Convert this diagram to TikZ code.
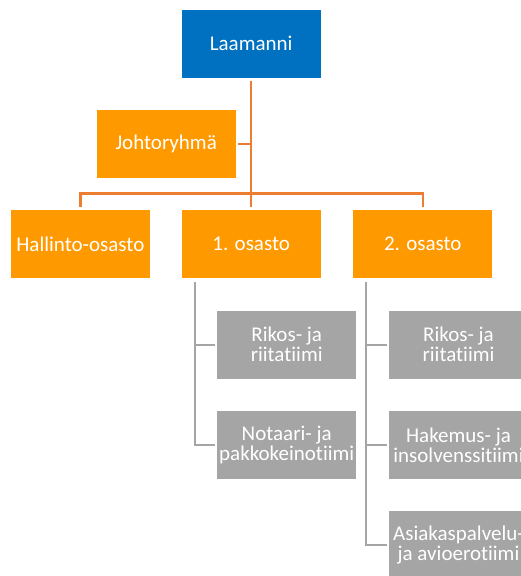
\documentclass[tikz,border=0pt]{standalone}
\usepackage{fontspec}
\setmainfont{Carlito}[Ligatures={NoCommon,NoRequired,NoContextual}]
\definecolor{laablue}{RGB}{0,112,192}
\definecolor{unitorange}{RGB}{255,153,0}
\definecolor{lineorange}{RGB}{237,125,49}
\definecolor{teamgray}{RGB}{165,165,165}
\begin{document}
\begin{tikzpicture}[x=1pt,y=-1pt,
        unit/.style={minimum width=139pt,minimum height=68pt,inner sep=0pt,
            text=white,align=center,font=\fontsize{21}{20}\selectfont},
        head/.style={unit,fill=laablue},
        dept/.style={unit,fill=unitorange},
        team/.style={unit,fill=teamgray},
        orgline/.style={draw=lineorange,line width=2.2pt},
        teamline/.style={draw=teamgray,line width=2.2pt}]
    \useasboundingbox (0,0) rectangle (520,576);

    \node[head] (laamanni) at (251.2,43.5) {Laamanni};
    \node[dept] (johto) at (166.2,144) {Johtoryhmä};

    \node[dept] (hallinto) at (80.4,244) {Hallinto-osasto};
    \node[dept] (osasto1) at (251.2,244) {1. osasto};
    \node[dept] (osasto2) at (422.8,244) {2. osasto};

    \node[team] (rikos1) at (286.7,344.7) {Rikos- ja\\riitatiimi};
    \node[team] (notaari) at (286.7,445) {Notaari- ja\\pakkokeinotiimi};
    \node[team] (rikos2) at (458.5,344.7) {Rikos- ja\\riitatiimi};
    \node[team] (hakemus) at (458.5,445) {Hakemus- ja\\insolvenssitiimi};
    \node[team] (asiakas) at (458.5,545) {Asiakaspalvelu-\\ja avioerotiimi};

    % orange tree
    \coordinate (bar) at (251.2,193.5);
    \draw[orgline,shorten <=3pt,shorten >=3pt] (laamanni.south) -- (osasto1.north);
    \draw[orgline,shorten <=2.5pt] (johto.east) -- (johto -| laamanni);
    \draw[orgline,shorten <=3pt,shorten >=3pt] (hallinto.north) |- (bar) -| (osasto2.north);

    % gray teams
    \coordinate (trunk1) at ([xshift=13.5pt,yshift=-4pt]osasto1.south west);
    \coordinate (trunk2) at ([xshift=12.5pt,yshift=-4pt]osasto2.south west);
    \draw[teamline,shorten >=2pt] (trunk1) |- (rikos1.west);
    \draw[teamline,shorten >=2pt] (trunk1) |- (notaari.west);
    \draw[teamline,shorten >=2pt] (trunk2) |- (rikos2.west);
    \draw[teamline,shorten >=2pt] (trunk2) |- (hakemus.west);
    \draw[teamline,shorten >=2pt] (trunk2) |- (asiakas.west);
\end{tikzpicture}
\end{document}
